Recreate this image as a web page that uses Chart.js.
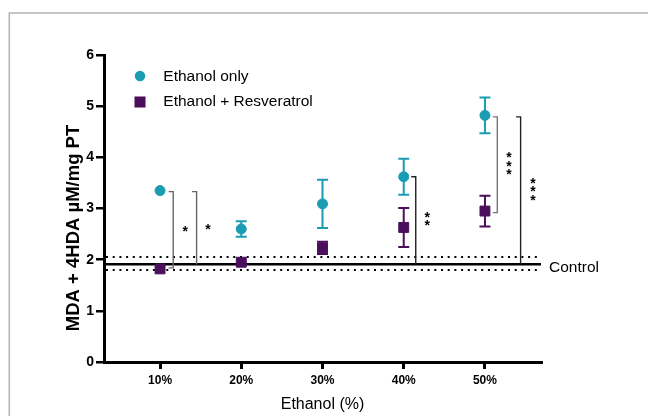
<!DOCTYPE html>
<html><head><meta charset="utf-8">
<script src="https://cdn.jsdelivr.net/npm/chart.js@4"></script>
<style>html,body{margin:0;padding:0;background:#fff}#wrap{width:648px;height:416px;position:relative}</style>
</head><body><div id="wrap"><canvas id="c" width="648" height="416"></canvas></div>
<script>
const categories = ['10%', '20%', '30%', '40%', '50%'];
const ethanolOnly = [3.35, 2.60, 3.09, 3.62, 4.82];
const ethanolOnlyErr = [0, 0.15, 0.47, 0.35, 0.35];
const resveratrol = [1.82, 1.95, 2.23, 2.63, 2.95];
const resveratrolErr = [0, 0, 0.12, 0.38, 0.30];
const controlMean = 1.91;
const controlUpper = 2.05;
const controlLower = 1.80;
const yTicks = [0, 1, 2, 3, 4, 5, 6];
const seriesNames = ['Ethanol only', 'Ethanol + Resveratrol'];
const yTitle = 'MDA + 4HDA µM/mg PT';
const xTitle = 'Ethanol (%)';

const TEAL = '#1a9cb3';
const PURPLE = '#4a0e5c';
const FONT = '"Liberation Sans", Arial, sans-serif';

// significance brackets: x in category units, top/bottom in data units
const brackets = [
  { x: 1.162, top: 3.33, bottom: 1.84, bottomTick: true, color: '#666', sx: 1.31, n: 1 },
  { x: 1.45, top: 3.33, bottom: controlMean, bottomTick: false, color: '#666', sx: 1.59, n: 1 },
  { x: 4.148, top: 3.62, bottom: controlMean, bottomTick: false, color: '#222', sx: 4.29, n: 2 },
  { x: 5.152, top: 4.79, bottom: 2.92, bottomTick: true, color: '#777', sx: 5.295, n: 3 },
  { x: 5.439, top: 4.79, bottom: controlMean, bottomTick: false, color: '#222', sx: 5.59, n: 3 }
];

const annot = {
  id: 'annot',
  beforeDraw(chart) {
    const ctx = chart.ctx;
    ctx.save();
    ctx.strokeStyle = '#b4b4b4';
    ctx.lineWidth = 1.6;
    ctx.beginPath();
    ctx.moveTo(9.3, 416);
    ctx.lineTo(9.3, 13);
    ctx.lineTo(648, 13);
    ctx.stroke();
    ctx.restore();
  },
  beforeDatasetsDraw(chart) {
    const ctx = chart.ctx, xs = chart.scales.x, ys = chart.scales.y, ca = chart.chartArea;
    ctx.save();
    ctx.strokeStyle = '#000';
    ctx.lineWidth = 2.5;
    ctx.beginPath();
    ctx.moveTo(ca.left, ys.getPixelForValue(controlMean));
    ctx.lineTo(ca.right, ys.getPixelForValue(controlMean));
    ctx.stroke();
    ctx.lineWidth = 2;
    ctx.setLineDash([2, 4.7]);
    [controlUpper, controlLower].forEach(v => {
      const y = ys.getPixelForValue(v);
      ctx.beginPath();
      ctx.moveTo(ca.left + 2, y);
      ctx.lineTo(ca.right, y);
      ctx.stroke();
    });
    ctx.setLineDash([]);
    const drawErr = (vals, errs, color) => {
      ctx.strokeStyle = color;
      ctx.lineWidth = 2;
      vals.forEach((v, i) => {
        const e = errs[i];
        if (!e) return;
        const x = xs.getPixelForValue(i + 1);
        const y1 = ys.getPixelForValue(v + e), y2 = ys.getPixelForValue(v - e);
        ctx.beginPath();
        ctx.moveTo(x, y1); ctx.lineTo(x, y2);
        ctx.moveTo(x - 5.5, y1); ctx.lineTo(x + 5.5, y1);
        ctx.moveTo(x - 5.5, y2); ctx.lineTo(x + 5.5, y2);
        ctx.stroke();
      });
    };
    drawErr(ethanolOnly, ethanolOnlyErr, TEAL);
    drawErr(resveratrol, resveratrolErr, PURPLE);
    ctx.restore();
  },
  afterDatasetsDraw(chart) {
    const ctx = chart.ctx, xs = chart.scales.x, ys = chart.scales.y, ca = chart.chartArea;
    ctx.save();
    brackets.forEach(b => {
      const x = xs.getPixelForValue(b.x);
      const yt = ys.getPixelForValue(b.top), yb = ys.getPixelForValue(b.bottom);
      ctx.strokeStyle = b.color;
      ctx.lineWidth = 1.4;
      ctx.beginPath();
      ctx.moveTo(x - 4.5, yt); ctx.lineTo(x, yt); ctx.lineTo(x, yb);
      if (b.bottomTick) ctx.lineTo(x - 4.5, yb);
      ctx.stroke();
      const sx = xs.getPixelForValue(b.sx);
      const my = (yt + yb) / 2;
      ctx.fillStyle = '#000';
      ctx.font = 'bold 14px ' + FONT;
      ctx.textAlign = 'center';
      ctx.textBaseline = 'middle';
      for (let k = 0; k < b.n; k++) {
        const yy = my + (k - (b.n - 1) / 2) * 8.2;
        ctx.fillText('*', sx, yy + 2);
      }
    });
    ctx.fillStyle = '#000';
    ctx.font = '15.5px ' + FONT;
    ctx.textAlign = 'left';
    ctx.textBaseline = 'middle';
    ctx.fillText('Control', ca.right + 8, ys.getPixelForValue(controlMean) + 3);
    ctx.fillStyle = TEAL;
    ctx.beginPath();
    ctx.arc(140, 76, 5.2, 0, Math.PI * 2);
    ctx.fill();
    ctx.fillStyle = PURPLE;
    ctx.fillRect(134.5, 96.5, 11, 11);
    ctx.fillStyle = '#000';
    ctx.font = '15.5px ' + FONT;
    ctx.fillText(seriesNames[0], 163.3, 76.5);
    ctx.fillText(seriesNames[1], 163.3, 102.2);
    ctx.save();
    ctx.translate(73.5, 228);
    ctx.rotate(-Math.PI / 2);
    ctx.font = 'bold 18.5px ' + FONT;
    ctx.textAlign = 'center';
    ctx.textBaseline = 'middle';
    ctx.fillText(yTitle, 0, 0);
    ctx.restore();
    ctx.restore();
  }
};

new Chart(document.getElementById('c'), {
  type: 'scatter',
  data: {
    datasets: [
      {
        label: seriesNames[0],
        data: ethanolOnly.map((v, i) => ({ x: i + 1, y: v })),
        pointStyle: 'circle', pointRadius: 5, borderWidth: 1,
        backgroundColor: TEAL, borderColor: TEAL
      },
      {
        label: seriesNames[1],
        data: resveratrol.map((v, i) => ({ x: i + 1, y: v })),
        pointStyle: 'rect', pointRadius: 7, borderWidth: 1,
        backgroundColor: PURPLE, borderColor: PURPLE
      }
    ]
  },
  options: {
    responsive: false,
    animation: false,
    events: [],
    layout: { padding: { top: 55, right: 107, left: 0, bottom: 0 } },
    plugins: { legend: { display: false }, tooltip: { enabled: false } },
    scales: {
      x: {
        type: 'linear', min: 0.31, max: 5.69,
        afterBuildTicks: s => { s.ticks = categories.map((c, i) => ({ value: i + 1 })); },
        ticks: {
          callback: (v, i) => categories[i],
          font: { family: FONT, size: 12, weight: 'bold' }, color: '#000',
          padding: 4, maxRotation: 0, autoSkip: false
        },
        grid: { drawOnChartArea: false, drawTicks: true, tickLength: 7, color: '#000', lineWidth: 3 },
        border: { display: true, color: '#000', width: 3 },
        title: { display: true, text: xTitle, font: { family: FONT, size: 16 }, color: '#000', padding: { top: 0, bottom: 2 } },
        afterFit: s => { s.height = 54; }
      },
      y: {
        min: 0, max: 6,
        afterBuildTicks: s => { s.ticks = yTicks.map(v => ({ value: v })); },
        ticks: { font: { family: FONT, size: 14, weight: 'bold' }, color: '#000', padding: 2 },
        grid: { drawOnChartArea: false, drawTicks: true, tickLength: 8, color: '#000', lineWidth: 2.5 },
        border: { display: true, color: '#000', width: 3 },
        afterFit: s => { s.width = 104; }
      }
    }
  },
  plugins: [annot]
});
</script>
</body></html>
